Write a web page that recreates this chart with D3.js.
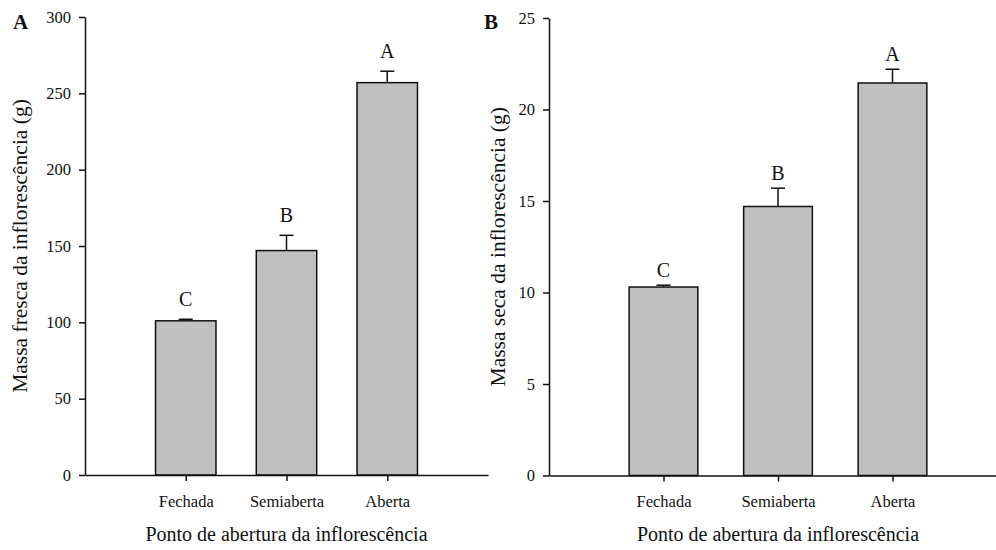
<!DOCTYPE html>
<html lang="pt">
<head>
<meta charset="UTF-8">
<title>Massa da inflorescência</title>
<script src="https://cdn.jsdelivr.net/npm/d3@7"></script>
<style>
  body { margin: 0; background: #fff; }
  svg text { font-family: "Liberation Serif", "Times New Roman", serif; fill: #111; }
</style>
</head>
<body>
<div id="chart"></div>
<script>
// données
const categories = ["Fechada", "Semiaberta", "Aberta"];

const freshMass = [101, 147, 257];
const freshErr = [1, 10, 7.5];
const freshLetters = ["C", "B", "A"];
const freshTicks = [0, 50, 100, 150, 200, 250, 300];

const dryMass = [10.3, 14.7, 21.45];
const dryErr = [0.1, 1.0, 0.75];
const dryLetters = ["C", "B", "A"];
const dryTicks = [0, 5, 10, 15, 20, 25];

const W = 996, H = 550;

const svg = d3.select("#chart").append("svg")
    .attr("width", W)
    .attr("height", H);

// un panneau = un graphe en barres avec erreurs et lettres
function drawPanel(p) {
  const x = d3.scalePoint()
      .domain(categories)
      .range([p.left, p.right])
      .padding(1);
  const y = d3.scaleLinear()
      .domain([0, p.max])
      .range([p.bottom, p.top]);
  const bw = x.step() * 0.6;
  const rows = categories.map((c, i) => ({cat: c, v: p.values[i], e: p.errs[i], l: p.letters[i]}));
  const g = svg.append("g");

  g.selectAll("rect.bar")
    .data(rows)
    .enter()
    .append("rect")
    .attr("class", "bar")
    .attr("x", d => x(d.cat) - bw / 2)
    .attr("y", d => y(d.v))
    .attr("width", bw)
    .attr("height", d => y(0) - y(d.v))
    .attr("fill", "#c0c0c0")
    .attr("stroke", "#111")
    .attr("stroke-width", 1.5);

  // barres d'erreur (vers le haut seulement)
  g.selectAll("line.err")
    .data(rows)
    .enter()
    .append("line")
    .attr("x1", d => x(d.cat)).attr("x2", d => x(d.cat))
    .attr("y1", d => y(d.v)).attr("y2", d => y(d.v + d.e))
    .attr("stroke", "#111").attr("stroke-width", 1.5);
  g.selectAll("line.cap")
    .data(rows)
    .enter()
    .append("line")
    .attr("x1", d => x(d.cat) - 7).attr("x2", d => x(d.cat) + 7)
    .attr("y1", d => y(d.v + d.e)).attr("y2", d => y(d.v + d.e))
    .attr("stroke", "#111").attr("stroke-width", 1.5);

  g.selectAll("text.letter")
    .data(rows)
    .enter()
    .append("text")
    .attr("x", d => x(d.cat))
    .attr("y", d => y(d.v + d.e) - p.letterGap)
    .attr("text-anchor", "middle")
    .style("font-size", "20px")
    .text(d => d.l);

  // axes
  const yAxis = d3.axisLeft(y)
      .tickValues(p.ticks)
      .tickSize(6)
      .tickSizeOuter(0)
      .tickPadding(8);
  const ya = g.append("g")
      .attr("transform", "translate(" + p.left + ",0)")
      .call(yAxis);

  const xAxis = d3.axisBottom(x)
      .tickSize(6)
      .tickSizeOuter(0)
      .tickPadding(14);
  const xa = g.append("g")
      .attr("transform", "translate(0," + p.bottom + ")")
      .call(xAxis);

  [ya, xa].forEach(a => {
    a.selectAll("path, line").attr("stroke", "#111").attr("stroke-width", 1.5);
    a.selectAll("text").style("font-size", "16.5px").attr("fill", "#111")
     .style("font-family", "'Liberation Serif', 'Times New Roman', serif");
  });

  // titres d'axes
  g.append("text")
    .attr("x", x(categories[1]))
    .attr("y", 541)
    .attr("text-anchor", "middle")
    .style("font-size", "20px")
    .text("Ponto de abertura da inflorescência");

  g.append("text")
    .attr("transform", "translate(" + p.yTitleX + "," + (p.top + p.bottom) / 2 + ") rotate(-90)")
    .attr("text-anchor", "middle")
    .style("font-size", "21.5px")
    .text(p.yTitle);

  g.append("text")
    .attr("x", p.tagX)
    .attr("y", 29)
    .style("font-size", "21px")
    .style("font-weight", "bold")
    .text(p.tag);
}

drawPanel({
  tag: "A", tagX: 13,
  left: 85, right: 488, top: 17, bottom: 475,
  max: 300, ticks: freshTicks,
  values: freshMass, errs: freshErr, letters: freshLetters,
  letterGap: 13, yTitleX: 27,
  yTitle: "Massa fresca da inflorescência (g)"
});

drawPanel({
  tag: "B", tagX: 484,
  left: 549, right: 1007, top: 18, bottom: 475.5,
  max: 25, ticks: dryTicks,
  values: dryMass, errs: dryErr, letters: dryLetters,
  letterGap: 8, yTitleX: 505,
  yTitle: "Massa seca da inflorescência (g)"
});
</script>
</body>
</html>
